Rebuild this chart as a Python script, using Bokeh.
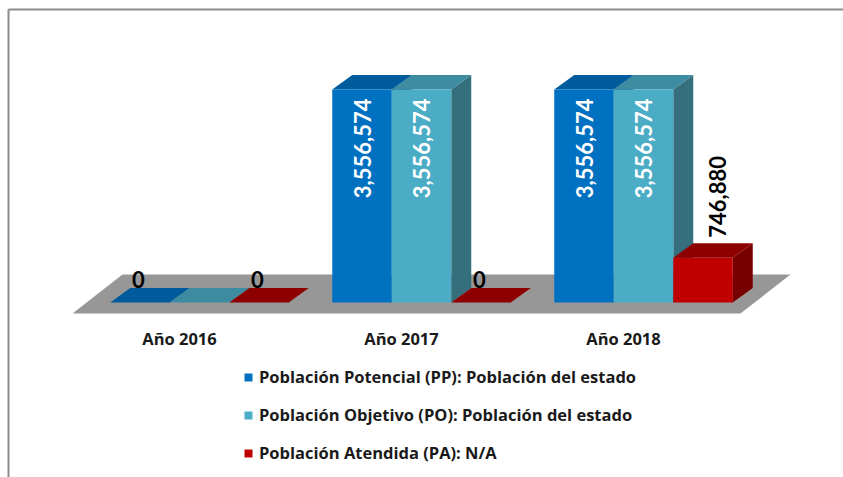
import math
from bokeh.plotting import figure
from bokeh.models import Range1d, Legend, LegendItem, ColumnDataSource
from bokeh.core.properties import value
from bokeh.embed import file_html
from bokeh.resources import INLINE

# ---- data ----
categories = ["Año 2016", "Año 2017", "Año 2018"]
series_names = [
    "Población Potencial (PP): Población del estado",
    "Población Objetivo (PO): Población del estado",
    "Población Atendida (PA): N/A",
]
pp_values = [0, 3556574, 3556574]
po_values = [0, 3556574, 3556574]
pa_values = [0, 0, 746880]
# which data labels Excel displayed (the 2016 PO zero label was hidden by overlap)
pp_label_shown = [True, True, True]
po_label_shown = [False, True, True]
pa_label_shown = [True, True, True]

# ---- style ----
front_colors = ["#0070C0", "#4BACC6", "#C00000"]
top_colors = ["#005B9C", "#3D8CA1", "#8E0000"]
side_colors = ["#004F86", "#356F7E", "#780000"]
floor_color = "#979797"
FONT = "Open Sans"
VFONT = "Lato"

W, H = 843, 477
PX_GROUP = 222.0          # pixels per category unit
KY = 16700.0              # value units per pixel
X0_PX = 199.0             # frame x of category 0 centre
Y0_PX = 302.0             # frame y (from top) of value 0

def dxu(px):
    return px / PX_GROUP

def dyu(px):
    return px * KY

x_range = Range1d(-X0_PX / PX_GROUP, (W - X0_PX) / PX_GROUP)
y_range = Range1d(-(H - Y0_PX) * KY, Y0_PX * KY)

p = figure(width=W, height=H, x_range=x_range, y_range=y_range,
           output_backend="svg", toolbar_location=None, tools="",
           x_axis_location=None, y_axis_location=None, min_border=0)
p.grid.visible = False
p.outline_line_color = None
p.background_fill_color = "white"
p.border_fill_color = "white"

series = [pp_values, po_values, pa_values]
shown = [pp_label_shown, po_label_shown, pa_label_shown]
n_cat = len(categories)
n_ser = len(series)

BW = dxu(59.5)
DDX = dxu(20)
DDY = dyu(14.5)

# chart area border (top and left visible)
bx = x_range.start + dxu(8)
by = y_range.end - dyu(9)
p.segment(x0=[bx, bx], y0=[by, by], x1=[x_range.end, bx], y1=[by, y_range.start],
          line_color="#8c8c8c", line_width=2)

# floor
fl_x0 = -dxu(127)
fl_x1 = (n_cat - 1) + dxu(740 - 643)
fdx, fdy = dxu(50), dyu(39)
fy0 = -dyu(11)
p.patch([fl_x0, fl_x1, fl_x1 + fdx, fl_x0 + fdx],
        [fy0, fy0, fy0 + fdy, fy0 + fdy], fill_color=floor_color, line_color=None)

sides = dict(xs=[], ys=[], c=[])
tops = dict(xs=[], ys=[], c=[])
for i in range(n_cat):
    for j in range(n_ser):
        v = series[j][i]
        x0 = i + (j - n_ser / 2.0) * BW
        x1 = x0 + BW
        if v > 0:
            sides["xs"].append([x1, x1 + DDX, x1 + DDX, x1])
            sides["ys"].append([0, DDY, v + DDY, v])
            sides["c"].append(side_colors[j])
        tops["xs"].append([x0, x1, x1 + DDX, x0 + DDX])
        tops["ys"].append([v, v, v + DDY, v + DDY])
        tops["c"].append(top_colors[j])

p.patches("xs", "ys", source=ColumnDataSource(sides), fill_color="c", line_color=None)
p.patches("xs", "ys", source=ColumnDataSource(tops), fill_color="c", line_color=None)

front_renderers = []
for j in range(n_ser):
    lefts = [i + (j - n_ser / 2.0) * BW for i in range(n_cat)]
    r = p.quad(left=lefts, right=[l + BW for l in lefts], bottom=[0] * n_cat,
               top=series[j], fill_color=front_colors[j], line_color=None)
    front_renderers.append(r)

# data labels
for j in range(n_ser):
    for i in range(n_cat):
        if not shown[j][i]:
            continue
        v = series[j][i]
        cx = i + (j - n_ser / 2.0 + 0.5) * BW
        txt = f"{v:,}"
        if v == 0:
            p.text([cx - dxu(1.5)], [dyu(23)], text=[txt], text_color="black",
                   text_font=value(VFONT), text_font_size="22px", text_font_style="bold",
                   text_align="center", text_baseline="middle")
        elif j < 2:
            p.text([cx], [v - dyu(9)], text=[txt], angle=math.pi / 2, text_color="white",
                   text_font=value(VFONT), text_font_size="22px", text_font_style="bold",
                   text_align="right", text_baseline="middle")
        else:
            p.text([cx + dxu(14)], [v + dyu(20)], text=[txt], angle=math.pi / 2, text_color="black",
                   text_font=value(VFONT), text_font_size="22px", text_font_style="bold",
                   text_align="left", text_baseline="middle")

# category labels
p.text([i - dxu(20) for i in range(n_cat)], [-dyu(36)] * n_cat, text=categories,
       text_color="#1a1a1a", text_font=value(FONT), text_font_size="16.5px",
       text_font_style="bold", text_align="center", text_baseline="middle")

# legend
legend = Legend(items=[LegendItem(label=series_names[j], renderers=[front_renderers[j]])
                       for j in range(n_ser)],
                location=(243, 13), orientation="vertical",
                glyph_width=10, glyph_height=10, label_height=20, spacing=15,
                padding=0, margin=0, border_line_color=None, background_fill_alpha=0,
                label_text_font=FONT, label_text_font_size="16.5px",
                label_text_font_style="bold", label_text_color="#1a1a1a",
                label_standoff=6)
p.add_layout(legend, "center")

open("out.html", "w").write(file_html(p, INLINE))
